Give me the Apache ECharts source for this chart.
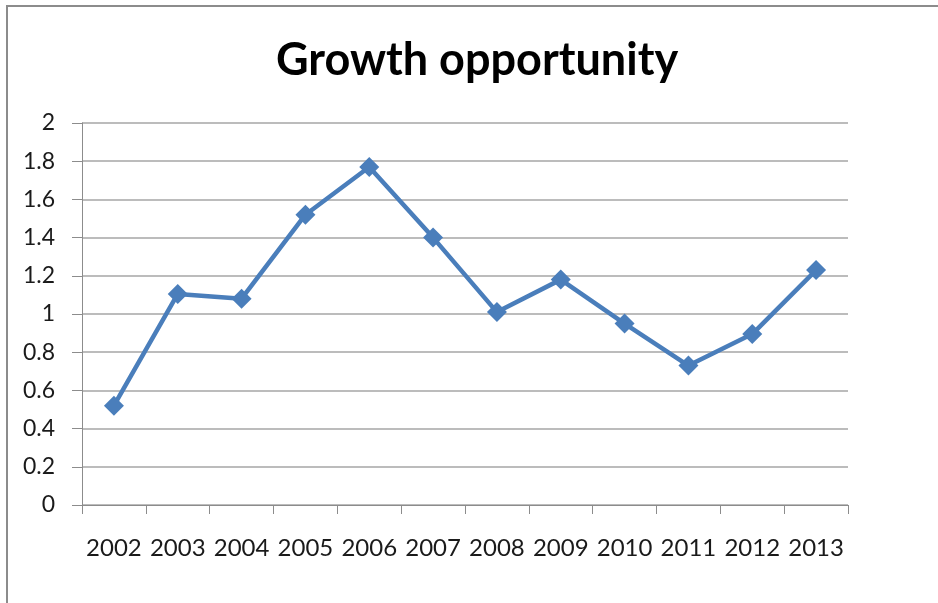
<!DOCTYPE html>
<html>
<head>
<meta charset="utf-8">
<script src="https://cdn.jsdelivr.net/npm/echarts@6/dist/echarts.min.js"></script>
<style>
  html, body { margin: 0; padding: 0; background: #fff; }
  #main { width: 938px; height: 603px; }
</style>
</head>
<body>
<div id="main"></div>
<script>
// 年份
var years = ['2002', '2003', '2004', '2005', '2006', '2007', '2008', '2009', '2010', '2011', '2012', '2013'];
// 增长机会数值
var growth = [0.52, 1.105, 1.08, 1.52, 1.77, 1.40, 1.01, 1.18, 0.95, 0.73, 0.895, 1.23];

var myChart = echarts.init(document.getElementById('main'));

var option = {
    backgroundColor: '#fff',
    title: {
        text: 'Growth opportunity',
        left: 271,
        top: 33,
        textStyle: {
            fontFamily: 'Lato',
            fontWeight: 'bold',
            fontSize: 45,
            color: '#000'
        }
    },
    // 外边框
    graphic: [{
        type: 'rect',
        shape: { x: 7, y: 6, width: 1000, height: 1000 },
        style: { fill: 'none', stroke: '#8c8c8c', lineWidth: 2 },
        silent: true
    }],
    grid: {
        left: 82,
        right: 90,
        top: 123,
        bottom: 98
    },
    xAxis: {
        type: 'category',
        data: years,
        boundaryGap: true,
        axisLine: { show: true, lineStyle: { color: '#8c8c8c', width: 1 } },
        axisTick: { show: true, interval: 0, alignWithLabel: false, length: 9, lineStyle: { color: '#8c8c8c' } },
        axisLabel: {
            interval: 0,
            hideOverlap: false,
            color: '#1a1a1a',
            fontFamily: 'Lato',
            fontSize: 24,
            margin: 31
        },
        splitLine: { show: false }
    },
    yAxis: {
        type: 'value',
        min: 0,
        max: 2,
        interval: 0.2,
        axisLine: { show: true, lineStyle: { color: '#8c8c8c', width: 1 } },
        axisTick: { show: true, inside: false, length: 10, lineStyle: { color: '#8c8c8c' } },
        axisLabel: {
            color: '#1a1a1a',
            fontFamily: 'Lato',
            fontSize: 23,
            margin: 27,
            formatter: function(value) {
                return String(Math.round(value * 10) / 10);
            }
        },
        splitLine: { show: true, lineStyle: { color: '#a6a6a6', width: 1.5 } }
    },
    series: [
        {
            name: 'Growth opportunity',
            type: 'line',
            data: growth,
            symbol: 'diamond',
            symbolSize: 20,
            showAllSymbol: true,
            itemStyle: { color: '#4a7ebb' },
            lineStyle: { color: '#4a7ebb', width: 4.5 },
            animation: false
        }
    ]
};

myChart.setOption(option);
</script>
</body>
</html>
